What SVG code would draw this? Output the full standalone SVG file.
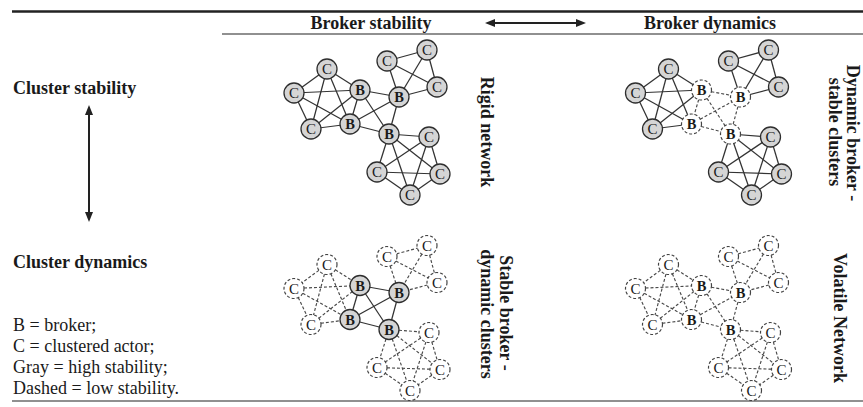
<svg xmlns="http://www.w3.org/2000/svg" width="863" height="407" viewBox="0 0 863 407">
<style>
text{font-family:"Liberation Serif","Times New Roman",serif;fill:#1a1a1a}
.h{font-size:18px;font-weight:bold}
.lg{font-size:18px}
.vt{font-size:18px;font-weight:bold;text-anchor:middle}
.nc{font-size:15px;text-anchor:middle}
.nb{font-size:14.5px;font-weight:bold;text-anchor:middle}
.g{fill:#d5d5d5;stroke:#2e2e2e;stroke-width:1.3}
.w{fill:#fff;stroke:#444;stroke-width:1.2;stroke-dasharray:3 2}
.e{stroke:#333;stroke-width:1.25}
.d{stroke:#4a4a4a;stroke-width:1.15;stroke-dasharray:3 2}
.rule{stroke:#222}
.arr{stroke:#222;stroke-width:2;fill:none}
</style>
<defs>
<marker id="ah" viewBox="0 0 10 8" refX="3" refY="4" markerWidth="10" markerHeight="8" orient="auto-start-reverse" markerUnits="userSpaceOnUse">
<path d="M0,0 L10,4 L0,8 z" fill="#222"/>
</marker>
</defs>

<g id="frame">
<line class="rule" x1="12" y1="11.5" x2="863" y2="11.5" stroke-width="2.5"/>
<line class="rule" x1="222" y1="34" x2="863" y2="34" stroke-width="1.2"/>
<line class="rule" x1="12" y1="401" x2="863" y2="401" stroke-width="1.2"/>
</g>

<g id="headers">
<text class="h" x="371" y="29" text-anchor="middle">Broker stability</text>
<text class="h" x="710" y="29" text-anchor="middle">Broker dynamics</text>
<text class="h" x="13" y="94">Cluster stability</text>
<text class="h" x="13" y="268">Cluster dynamics</text>
</g>

<g id="axis-arrows">
<line class="arr" x1="492" y1="23" x2="579" y2="23" marker-start="url(#ah)" marker-end="url(#ah)"/>
<line class="arr" x1="89" y1="112" x2="89" y2="215" marker-start="url(#ah)" marker-end="url(#ah)"/>
</g>

<g id="legend">
<text class="lg" x="13" y="331">B = broker;</text>
<text class="lg" x="13" y="352">C = clustered actor;</text>
<text class="lg" x="13" y="373">Gray = high stability;</text>
<text class="lg" x="13" y="394">Dashed = low stability.</text>
</g>

<g id="quadrant-labels">
<text class="vt" transform="translate(481,132) rotate(90)">Rigid network</text>
<text class="vt" transform="translate(846.5,133) rotate(90)">Dynamic broker -</text>
<text class="vt" transform="translate(829,132) rotate(90)">stable clusters</text>
<text class="vt" transform="translate(500,313) rotate(90)">Stable broker -</text>
<text class="vt" transform="translate(481,314) rotate(90)">dynamic clusters</text>
<text class="vt" transform="translate(834,318) rotate(90)">Volatile Network</text>
</g>

<!-- Rigid network -->
<g id="net-rigid">
<g id="rigid-connectors">
<line class="e" x1="327" y1="69" x2="294" y2="93"/>
<line class="e" x1="327" y1="69" x2="311" y2="129"/>
<line class="e" x1="327" y1="69" x2="360" y2="90"/>
<line class="e" x1="327" y1="69" x2="350" y2="124"/>
<line class="e" x1="294" y1="93" x2="311" y2="129"/>
<line class="e" x1="294" y1="93" x2="360" y2="90"/>
<line class="e" x1="294" y1="93" x2="350" y2="124"/>
<line class="e" x1="311" y1="129" x2="360" y2="90"/>
<line class="e" x1="311" y1="129" x2="350" y2="124"/>
<line class="e" x1="387" y1="61" x2="427" y2="50"/>
<line class="e" x1="387" y1="61" x2="437" y2="87"/>
<line class="e" x1="387" y1="61" x2="399" y2="97"/>
<line class="e" x1="427" y1="50" x2="437" y2="87"/>
<line class="e" x1="427" y1="50" x2="399" y2="97"/>
<line class="e" x1="437" y1="87" x2="399" y2="97"/>
<line class="e" x1="389" y1="134" x2="429" y2="137"/>
<line class="e" x1="389" y1="134" x2="377" y2="172"/>
<line class="e" x1="389" y1="134" x2="440" y2="174"/>
<line class="e" x1="389" y1="134" x2="410" y2="195"/>
<line class="e" x1="429" y1="137" x2="377" y2="172"/>
<line class="e" x1="429" y1="137" x2="440" y2="174"/>
<line class="e" x1="429" y1="137" x2="410" y2="195"/>
<line class="e" x1="377" y1="172" x2="440" y2="174"/>
<line class="e" x1="377" y1="172" x2="410" y2="195"/>
<line class="e" x1="440" y1="174" x2="410" y2="195"/>
<line class="e" x1="360" y1="90" x2="350" y2="124"/>
<line class="e" x1="360" y1="90" x2="399" y2="97"/>
<line class="e" x1="360" y1="90" x2="389" y2="134"/>
<line class="e" x1="350" y1="124" x2="399" y2="97"/>
<line class="e" x1="350" y1="124" x2="389" y2="134"/>
<line class="e" x1="399" y1="97" x2="389" y2="134"/>
</g>
<g id="r-ca"><circle class="g" cx="327" cy="69" r="10"/><text class="nc" x="327" y="74.2">C</text></g>
<g id="r-cb"><circle class="g" cx="294" cy="93" r="10"/><text class="nc" x="294" y="98.2">C</text></g>
<g id="r-cc"><circle class="g" cx="311" cy="129" r="10"/><text class="nc" x="311" y="134.2">C</text></g>
<g id="r-b1"><circle class="g" cx="360" cy="90" r="10"/><text class="nb" x="360" y="95.2">B</text></g>
<g id="r-b2"><circle class="g" cx="350" cy="124" r="10"/><text class="nb" x="350" y="129.2">B</text></g>
<g id="r-b3"><circle class="g" cx="399" cy="97" r="10"/><text class="nb" x="399" y="102.2">B</text></g>
<g id="r-cd"><circle class="g" cx="387" cy="61" r="10"/><text class="nc" x="387" y="66.2">C</text></g>
<g id="r-ce"><circle class="g" cx="427" cy="50" r="10"/><text class="nc" x="427" y="55.2">C</text></g>
<g id="r-cf"><circle class="g" cx="437" cy="87" r="10"/><text class="nc" x="437" y="92.2">C</text></g>
<g id="r-b4"><circle class="g" cx="389" cy="134" r="10"/><text class="nb" x="389" y="139.2">B</text></g>
<g id="r-cg"><circle class="g" cx="429" cy="137" r="10"/><text class="nc" x="429" y="142.2">C</text></g>
<g id="r-ch"><circle class="g" cx="377" cy="172" r="10"/><text class="nc" x="377" y="177.2">C</text></g>
<g id="r-ci"><circle class="g" cx="440" cy="174" r="10"/><text class="nc" x="440" y="179.2">C</text></g>
<g id="r-cj"><circle class="g" cx="410" cy="195" r="10"/><text class="nc" x="410" y="200.2">C</text></g>
</g>

<!-- Dynamic broker - stable clusters -->
<g id="net-dynbroker" transform="translate(341.5,0)">
<g id="dynbroker-connectors">
<line class="e" x1="327" y1="69" x2="294" y2="93"/>
<line class="e" x1="327" y1="69" x2="311" y2="129"/>
<line class="e" x1="327" y1="69" x2="360" y2="90"/>
<line class="e" x1="327" y1="69" x2="350" y2="124"/>
<line class="e" x1="294" y1="93" x2="311" y2="129"/>
<line class="e" x1="294" y1="93" x2="360" y2="90"/>
<line class="e" x1="294" y1="93" x2="350" y2="124"/>
<line class="e" x1="311" y1="129" x2="360" y2="90"/>
<line class="e" x1="311" y1="129" x2="350" y2="124"/>
<line class="e" x1="387" y1="61" x2="427" y2="50"/>
<line class="e" x1="387" y1="61" x2="437" y2="87"/>
<line class="e" x1="387" y1="61" x2="399" y2="97"/>
<line class="e" x1="427" y1="50" x2="437" y2="87"/>
<line class="e" x1="427" y1="50" x2="399" y2="97"/>
<line class="e" x1="437" y1="87" x2="399" y2="97"/>
<line class="e" x1="389" y1="134" x2="429" y2="137"/>
<line class="e" x1="389" y1="134" x2="377" y2="172"/>
<line class="e" x1="389" y1="134" x2="440" y2="174"/>
<line class="e" x1="389" y1="134" x2="410" y2="195"/>
<line class="e" x1="429" y1="137" x2="377" y2="172"/>
<line class="e" x1="429" y1="137" x2="440" y2="174"/>
<line class="e" x1="429" y1="137" x2="410" y2="195"/>
<line class="e" x1="377" y1="172" x2="440" y2="174"/>
<line class="e" x1="377" y1="172" x2="410" y2="195"/>
<line class="e" x1="440" y1="174" x2="410" y2="195"/>
<line class="d" x1="360" y1="90" x2="350" y2="124"/>
<line class="d" x1="360" y1="90" x2="399" y2="97"/>
<line class="d" x1="360" y1="90" x2="389" y2="134"/>
<line class="d" x1="350" y1="124" x2="399" y2="97"/>
<line class="d" x1="350" y1="124" x2="389" y2="134"/>
<line class="d" x1="399" y1="97" x2="389" y2="134"/>
</g>
<g id="db-ca"><circle class="g" cx="327" cy="69" r="10"/><text class="nc" x="327" y="74.2">C</text></g>
<g id="db-cb"><circle class="g" cx="294" cy="93" r="10"/><text class="nc" x="294" y="98.2">C</text></g>
<g id="db-cc"><circle class="g" cx="311" cy="129" r="10"/><text class="nc" x="311" y="134.2">C</text></g>
<g id="db-b1"><circle class="w" cx="360" cy="90" r="10"/><text class="nb" x="360" y="95.2">B</text></g>
<g id="db-b2"><circle class="w" cx="350" cy="124" r="10"/><text class="nb" x="350" y="129.2">B</text></g>
<g id="db-b3"><circle class="w" cx="399" cy="97" r="10"/><text class="nb" x="399" y="102.2">B</text></g>
<g id="db-cd"><circle class="g" cx="387" cy="61" r="10"/><text class="nc" x="387" y="66.2">C</text></g>
<g id="db-ce"><circle class="g" cx="427" cy="50" r="10"/><text class="nc" x="427" y="55.2">C</text></g>
<g id="db-cf"><circle class="g" cx="437" cy="87" r="10"/><text class="nc" x="437" y="92.2">C</text></g>
<g id="db-b4"><circle class="w" cx="389" cy="134" r="10"/><text class="nb" x="389" y="139.2">B</text></g>
<g id="db-cg"><circle class="g" cx="429" cy="137" r="10"/><text class="nc" x="429" y="142.2">C</text></g>
<g id="db-ch"><circle class="g" cx="377" cy="172" r="10"/><text class="nc" x="377" y="177.2">C</text></g>
<g id="db-ci"><circle class="g" cx="440" cy="174" r="10"/><text class="nc" x="440" y="179.2">C</text></g>
<g id="db-cj"><circle class="g" cx="410" cy="195" r="10"/><text class="nc" x="410" y="200.2">C</text></g>
</g>

<!-- Stable broker - dynamic clusters -->
<g id="net-dynclusters" transform="translate(0,195.5)">
<g id="dynclusters-connectors">
<line class="d" x1="327" y1="69" x2="294" y2="93"/>
<line class="d" x1="327" y1="69" x2="311" y2="129"/>
<line class="d" x1="327" y1="69" x2="360" y2="90"/>
<line class="d" x1="327" y1="69" x2="350" y2="124"/>
<line class="d" x1="294" y1="93" x2="311" y2="129"/>
<line class="d" x1="294" y1="93" x2="360" y2="90"/>
<line class="d" x1="294" y1="93" x2="350" y2="124"/>
<line class="d" x1="311" y1="129" x2="360" y2="90"/>
<line class="d" x1="311" y1="129" x2="350" y2="124"/>
<line class="d" x1="387" y1="61" x2="427" y2="50"/>
<line class="d" x1="387" y1="61" x2="437" y2="87"/>
<line class="d" x1="387" y1="61" x2="399" y2="97"/>
<line class="d" x1="427" y1="50" x2="437" y2="87"/>
<line class="d" x1="427" y1="50" x2="399" y2="97"/>
<line class="d" x1="437" y1="87" x2="399" y2="97"/>
<line class="d" x1="389" y1="134" x2="429" y2="137"/>
<line class="d" x1="389" y1="134" x2="377" y2="172"/>
<line class="d" x1="389" y1="134" x2="440" y2="174"/>
<line class="d" x1="389" y1="134" x2="410" y2="195"/>
<line class="d" x1="429" y1="137" x2="377" y2="172"/>
<line class="d" x1="429" y1="137" x2="440" y2="174"/>
<line class="d" x1="429" y1="137" x2="410" y2="195"/>
<line class="d" x1="377" y1="172" x2="440" y2="174"/>
<line class="d" x1="377" y1="172" x2="410" y2="195"/>
<line class="d" x1="440" y1="174" x2="410" y2="195"/>
<line class="e" x1="360" y1="90" x2="350" y2="124"/>
<line class="e" x1="360" y1="90" x2="399" y2="97"/>
<line class="e" x1="360" y1="90" x2="389" y2="134"/>
<line class="e" x1="350" y1="124" x2="399" y2="97"/>
<line class="e" x1="350" y1="124" x2="389" y2="134"/>
<line class="e" x1="399" y1="97" x2="389" y2="134"/>
</g>
<g id="dc-ca"><circle class="w" cx="327" cy="69" r="10"/><text class="nc" x="327" y="74.2">C</text></g>
<g id="dc-cb"><circle class="w" cx="294" cy="93" r="10"/><text class="nc" x="294" y="98.2">C</text></g>
<g id="dc-cc"><circle class="w" cx="311" cy="129" r="10"/><text class="nc" x="311" y="134.2">C</text></g>
<g id="dc-b1"><circle class="g" cx="360" cy="90" r="10"/><text class="nb" x="360" y="95.2">B</text></g>
<g id="dc-b2"><circle class="g" cx="350" cy="124" r="10"/><text class="nb" x="350" y="129.2">B</text></g>
<g id="dc-b3"><circle class="g" cx="399" cy="97" r="10"/><text class="nb" x="399" y="102.2">B</text></g>
<g id="dc-cd"><circle class="w" cx="387" cy="61" r="10"/><text class="nc" x="387" y="66.2">C</text></g>
<g id="dc-ce"><circle class="w" cx="427" cy="50" r="10"/><text class="nc" x="427" y="55.2">C</text></g>
<g id="dc-cf"><circle class="w" cx="437" cy="87" r="10"/><text class="nc" x="437" y="92.2">C</text></g>
<g id="dc-b4"><circle class="g" cx="389" cy="134" r="10"/><text class="nb" x="389" y="139.2">B</text></g>
<g id="dc-cg"><circle class="w" cx="429" cy="137" r="10"/><text class="nc" x="429" y="142.2">C</text></g>
<g id="dc-ch"><circle class="w" cx="377" cy="172" r="10"/><text class="nc" x="377" y="177.2">C</text></g>
<g id="dc-ci"><circle class="w" cx="440" cy="174" r="10"/><text class="nc" x="440" y="179.2">C</text></g>
<g id="dc-cj"><circle class="w" cx="410" cy="195" r="10"/><text class="nc" x="410" y="200.2">C</text></g>
</g>

<!-- Volatile Network -->
<g id="net-volatile" transform="translate(341.5,195.5)">
<g id="volatile-connectors">
<line class="d" x1="327" y1="69" x2="294" y2="93"/>
<line class="d" x1="327" y1="69" x2="311" y2="129"/>
<line class="d" x1="327" y1="69" x2="360" y2="90"/>
<line class="d" x1="327" y1="69" x2="350" y2="124"/>
<line class="d" x1="294" y1="93" x2="311" y2="129"/>
<line class="d" x1="294" y1="93" x2="360" y2="90"/>
<line class="d" x1="294" y1="93" x2="350" y2="124"/>
<line class="d" x1="311" y1="129" x2="360" y2="90"/>
<line class="d" x1="311" y1="129" x2="350" y2="124"/>
<line class="d" x1="387" y1="61" x2="427" y2="50"/>
<line class="d" x1="387" y1="61" x2="437" y2="87"/>
<line class="d" x1="387" y1="61" x2="399" y2="97"/>
<line class="d" x1="427" y1="50" x2="437" y2="87"/>
<line class="d" x1="427" y1="50" x2="399" y2="97"/>
<line class="d" x1="437" y1="87" x2="399" y2="97"/>
<line class="d" x1="389" y1="134" x2="429" y2="137"/>
<line class="d" x1="389" y1="134" x2="377" y2="172"/>
<line class="d" x1="389" y1="134" x2="440" y2="174"/>
<line class="d" x1="389" y1="134" x2="410" y2="195"/>
<line class="d" x1="429" y1="137" x2="377" y2="172"/>
<line class="d" x1="429" y1="137" x2="440" y2="174"/>
<line class="d" x1="429" y1="137" x2="410" y2="195"/>
<line class="d" x1="377" y1="172" x2="440" y2="174"/>
<line class="d" x1="377" y1="172" x2="410" y2="195"/>
<line class="d" x1="440" y1="174" x2="410" y2="195"/>
<line class="d" x1="360" y1="90" x2="350" y2="124"/>
<line class="d" x1="360" y1="90" x2="399" y2="97"/>
<line class="d" x1="360" y1="90" x2="389" y2="134"/>
<line class="d" x1="350" y1="124" x2="399" y2="97"/>
<line class="d" x1="350" y1="124" x2="389" y2="134"/>
<line class="d" x1="399" y1="97" x2="389" y2="134"/>
</g>
<g id="v-ca"><circle class="w" cx="327" cy="69" r="10"/><text class="nc" x="327" y="74.2">C</text></g>
<g id="v-cb"><circle class="w" cx="294" cy="93" r="10"/><text class="nc" x="294" y="98.2">C</text></g>
<g id="v-cc"><circle class="w" cx="311" cy="129" r="10"/><text class="nc" x="311" y="134.2">C</text></g>
<g id="v-b1"><circle class="w" cx="360" cy="90" r="10"/><text class="nb" x="360" y="95.2">B</text></g>
<g id="v-b2"><circle class="w" cx="350" cy="124" r="10"/><text class="nb" x="350" y="129.2">B</text></g>
<g id="v-b3"><circle class="w" cx="399" cy="97" r="10"/><text class="nb" x="399" y="102.2">B</text></g>
<g id="v-cd"><circle class="w" cx="387" cy="61" r="10"/><text class="nc" x="387" y="66.2">C</text></g>
<g id="v-ce"><circle class="w" cx="427" cy="50" r="10"/><text class="nc" x="427" y="55.2">C</text></g>
<g id="v-cf"><circle class="w" cx="437" cy="87" r="10"/><text class="nc" x="437" y="92.2">C</text></g>
<g id="v-b4"><circle class="w" cx="389" cy="134" r="10"/><text class="nb" x="389" y="139.2">B</text></g>
<g id="v-cg"><circle class="w" cx="429" cy="137" r="10"/><text class="nc" x="429" y="142.2">C</text></g>
<g id="v-ch"><circle class="w" cx="377" cy="172" r="10"/><text class="nc" x="377" y="177.2">C</text></g>
<g id="v-ci"><circle class="w" cx="440" cy="174" r="10"/><text class="nc" x="440" y="179.2">C</text></g>
<g id="v-cj"><circle class="w" cx="410" cy="195" r="10"/><text class="nc" x="410" y="200.2">C</text></g>
</g>
</svg>
